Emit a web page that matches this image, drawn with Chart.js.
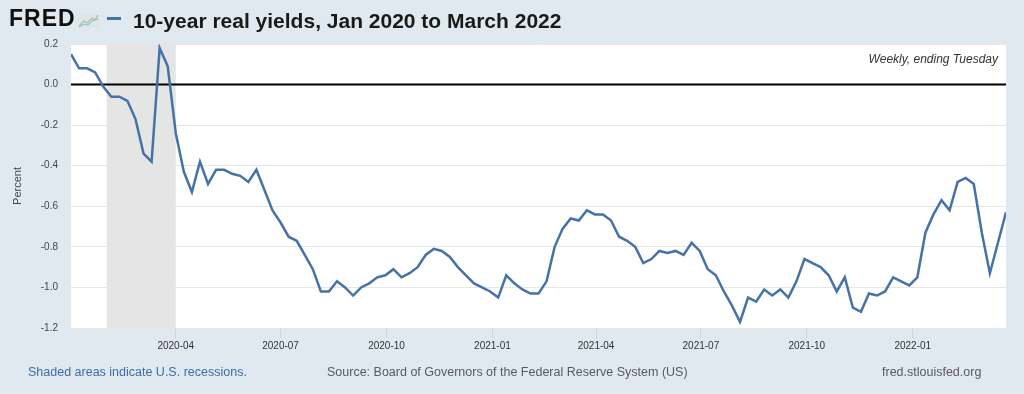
<!DOCTYPE html>
<html>
<head>
<meta charset="utf-8">
<script src="https://cdn.jsdelivr.net/npm/chart.js@4.4.1/dist/chart.umd.min.js"></script>
<style>
body { margin: 0; background: #e1e9f0; font-family: "Liberation Sans", Arial, sans-serif; }
#page { position: relative; width: 1024px; height: 394px; overflow: hidden; background: #e1e9f0; }
#chart { position: absolute; left: 0; top: 0; }
.txt { position: absolute; white-space: nowrap; line-height: 1; }
</style>
</head>
<body>
<div id="page">
    <canvas id="chart" width="1024" height="394"></canvas>
    <div class="txt" style="left:9px;top:7px;font-size:23px;font-weight:bold;color:#111;letter-spacing:1px;">FRED</div>
    <svg style="position:absolute;left:78px;top:14px" width="21" height="14">
        <rect x="0" y="0" width="21" height="14" fill="#dfe6ea"/>
        <polyline points="1,12 6,7 9,9 14,4 17,6 20,1" fill="none" stroke="#9fc79a" stroke-width="1.3"/>
        <polyline points="1,13 6,10 10,11 14,7 20,5" fill="none" stroke="#9cb6d3" stroke-width="1.1"/>
    </svg>
    <div style="position:absolute;left:107px;top:17px;width:14px;height:3px;background:#4572a7;"></div>
    <div class="txt" style="left:133px;top:10px;font-size:21px;font-weight:bold;color:#1a1a1a;">10-year real yields, Jan 2020 to March 2022</div>
    <div class="txt" style="right:26px;top:53px;font-size:12px;font-style:italic;color:#333;">Weekly, ending Tuesday</div>
    <div class="txt" style="left:28px;top:366px;font-size:12.5px;color:#3a6ea5;">Shaded areas indicate U.S. recessions.</div>
    <div class="txt" style="left:327px;top:366px;font-size:12.5px;color:#5a5a5a;">Source: Board of Governors of the Federal Reserve System (US)</div>
    <div class="txt" style="left:882px;top:366px;font-size:12.5px;color:#5a5a5a;">fred.stlouisfed.org</div>
</div>
<script>
// weekly observations, first week starts 2020-01-01
const firstWeek = '2020-01-01';
const realYield = [
    0.15, 0.08, 0.08, 0.06, -0.01, -0.06, -0.06, -0.08, -0.17, -0.34,
    -0.38, 0.18, 0.09, -0.24, -0.43, -0.53, -0.38, -0.49, -0.42, -0.42,
    -0.44, -0.45, -0.48, -0.42, -0.52, -0.62, -0.68, -0.75, -0.77, -0.84,
    -0.91, -1.02, -1.02, -0.97, -1.00, -1.04, -1.00, -0.98, -0.95, -0.94,
    -0.91, -0.95, -0.93, -0.90, -0.84, -0.81, -0.82, -0.85, -0.90, -0.94,
    -0.98, -1.00, -1.02, -1.05, -0.94, -0.98, -1.01, -1.03, -1.03, -0.97,
    -0.80, -0.71, -0.66, -0.67, -0.62, -0.64, -0.64, -0.67, -0.75, -0.77,
    -0.80, -0.88, -0.86, -0.82, -0.83, -0.82, -0.84, -0.78, -0.82, -0.91,
    -0.94, -1.02, -1.09, -1.17, -1.05, -1.07, -1.01, -1.04, -1.01, -1.05,
    -0.97, -0.86, -0.88, -0.90, -0.94, -1.02, -0.95, -1.10, -1.12, -1.03,
    -1.04, -1.02, -0.95, -0.97, -0.99, -0.95, -0.73, -0.64, -0.57, -0.62,
    -0.48, -0.46, -0.49, -0.73, -0.93, -0.78, -0.63
];
const xTickLabels = ['2020-04', '2020-07', '2020-10', '2021-01', '2021-04', '2021-07', '2021-10', '2022-01'];
const yMin = -1.2;
const yMax = 0.2;
const recessions = [['2020-02-01', '2020-04-01']];

const DAY = 86400000;
function toTime(s) {
    let p = s.split('-').map(Number);
    return Date.UTC(p[0], p[1] - 1, p[2] || 1);
}
let start = toTime(firstWeek);
let points = realYield.map((v, i) => ({ x: start + i * 7 * DAY, y: v }));
let xTicks = xTickLabels.map(t => toTime(t));

const plotDecor = {
    id: 'plotDecor',
    beforeDraw(chart) {
        const a = chart.chartArea;
        const c = chart.ctx;
        c.save();
        c.fillStyle = '#ffffff';
        c.fillRect(a.left, a.top, a.right - a.left, a.bottom - a.top);
        c.restore();
    },
    beforeDatasetsDraw(chart) {
        const a = chart.chartArea;
        const c = chart.ctx;
        const x = chart.scales.x;
        const y = chart.scales.y;
        c.save();
        c.fillStyle = '#e5e5e5';
        recessions.forEach(r => {
            let x0 = Math.max(a.left, x.getPixelForValue(toTime(r[0])));
            let x1 = Math.min(a.right, x.getPixelForValue(toTime(r[1])));
            c.fillRect(x0, a.top, x1 - x0, a.bottom - a.top);
        });
        let y0 = y.getPixelForValue(0);
        c.strokeStyle = '#000000';
        c.lineWidth = 2;
        c.beginPath();
        c.moveTo(a.left, y0);
        c.lineTo(a.right, y0);
        c.stroke();
        c.restore();
    }
};

new Chart(document.getElementById('chart').getContext('2d'), {
    type: 'line',
    data: {
        datasets: [{
            label: '10-year real yields',
            data: points,
            borderColor: '#4572a7',
            borderWidth: 2.5,
            pointRadius: 0,
            tension: 0,
            fill: false
        }]
    },
    options: {
        responsive: false,
        animation: false,
        layout: { padding: { top: 44, right: 18, left: 0, bottom: 0 } },
        plugins: {
            legend: { display: false },
            tooltip: { enabled: false }
        },
        scales: {
            x: {
                type: 'linear',
                min: points[0].x,
                max: points[points.length - 1].x,
                afterFit: s => { s.height = 66; },
                afterBuildTicks: s => { s.ticks = xTicks.map(v => ({ value: v })); },
                border: { display: false },
                grid: { drawOnChartArea: false, drawTicks: true, tickLength: 10, color: '#cbd3db' },
                ticks: {
                    color: '#333',
                    font: { family: '"Liberation Sans", Arial, sans-serif', size: 10 },
                    padding: 2,
                    maxRotation: 0,
                    autoSkip: false,
                    callback: v => xTickLabels[xTicks.indexOf(v)]
                }
            },
            y: {
                min: yMin,
                max: yMax,
                afterFit: s => { s.width = 71; },
                border: { display: false },
                grid: { drawTicks: false, color: '#e6e6e6', lineWidth: 1 },
                ticks: {
                    stepSize: 0.2,
                    padding: 13,
                    color: '#444',
                    font: { family: '"Liberation Sans", Arial, sans-serif', size: 10 },
                    callback: v => Math.abs(v) < 1e-9 ? '0.0' : v.toFixed(1)
                },
                title: {
                    display: true,
                    text: 'Percent',
                    color: '#444',
                    font: { family: '"Liberation Sans", Arial, sans-serif', size: 11 },
                    padding: { top: 11, bottom: 0 }
                }
            }
        }
    },
    plugins: [plotDecor]
});
</script>
</body>
</html>
